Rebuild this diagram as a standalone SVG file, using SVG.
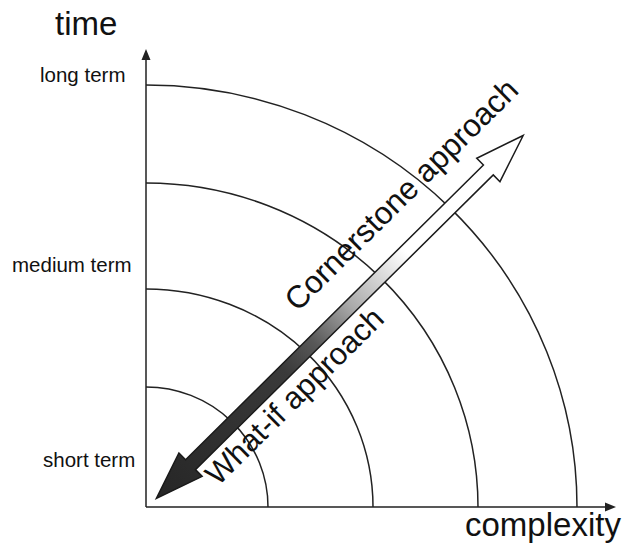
<svg xmlns="http://www.w3.org/2000/svg" width="631" height="548" viewBox="0 0 631 548">
<style>
.t{font-family:"Liberation Sans",Arial,sans-serif;fill:#111}
.arc{fill:none;stroke:#222;stroke-width:1.5}
.ax{fill:none;stroke:#222;stroke-width:1.5}
</style>
<defs>
<linearGradient id="g" x1="0" y1="0" x2="516" y2="0" gradientUnits="userSpaceOnUse">
<stop offset="0" stop-color="#262626"/>
<stop offset="0.35" stop-color="#3a3a3a"/>
<stop offset="0.43" stop-color="#585858"/>
<stop offset="0.53" stop-color="#aaa"/>
<stop offset="0.68" stop-color="#fff"/>
<stop offset="1" stop-color="#fff"/>
</linearGradient>
</defs>
<rect width="631" height="548" fill="#fff"/>
<g id="axes">
<path class="ax" d="M146,507 V58 M146,507 H607"/>
<path d="M146,49 L141.5,60 L150.5,60 Z M616,507 L605,502.5 L605,511.5 Z" fill="#222"/>
</g>
<g id="arcs">
<path class="arc" d="M146,85 A431,422 0 0 1 577,507"/>
<path class="arc" d="M146,183 A332,324 0 0 1 478,507"/>
<path class="arc" d="M146,289 A227,218 0 0 1 373,507"/>
<path class="arc" d="M146,387 A122,120 0 0 1 268,507"/>
</g>
<g id="labels">
<text class="t" x="55" y="35" font-size="33">time</text>
<text class="t" x="465" y="536" font-size="33">complexity</text>
<text class="t" x="40" y="82" font-size="20.5">long term</text>
<text class="t" x="12" y="272" font-size="20.5">medium term</text>
<text class="t" x="43" y="467" font-size="20.5">short term</text>
</g>
<g id="arrow" transform="translate(155,497) rotate(-44.7)">
<path d="M0,2 L48,-14.5 L48,-5 L467,-5 L467,-14.5 L516,2 L467,18.5 L467,9 L48,9 L48,18.5 Z" fill="url(#g)" stroke="#1a1a1a" stroke-width="1.5" stroke-linejoin="miter"/>
<text class="t" x="231" y="-31" font-size="31.5">Cornerstone approach</text>
<text class="t" x="52" y="37" font-size="31">What-if approach</text>
</g>
</svg>
